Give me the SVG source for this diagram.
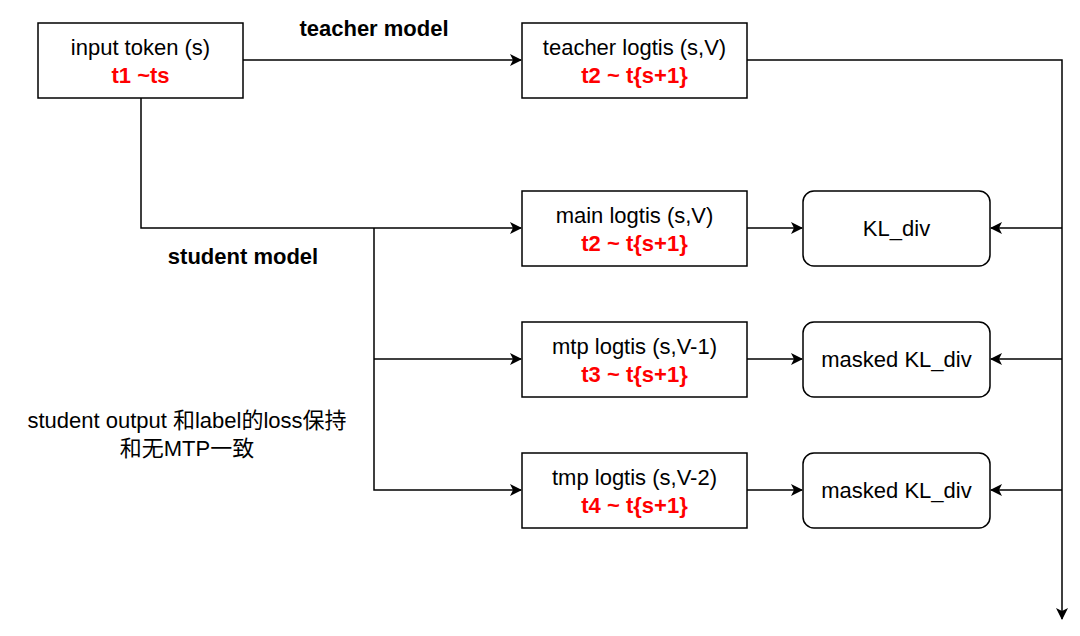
<svg xmlns="http://www.w3.org/2000/svg" width="1080" height="636" viewBox="0 0 1080 636">
<defs>
<marker id="arr" viewBox="0 0 12 12" refX="11" refY="6" markerWidth="12" markerHeight="12" markerUnits="userSpaceOnUse" orient="auto">
<path d="M0,0 L12,6 L0,12 L3,6 Z" fill="#000"/>
</marker>
</defs>
<style>
.box{fill:#fff;stroke:#000;stroke-width:1.5}
.t{font-family:"Liberation Sans",Arial,"Noto Sans CJK SC",sans-serif;font-size:22px;fill:#000;text-anchor:middle}
.r{font-family:"Liberation Sans",Arial,sans-serif;font-size:22px;font-weight:bold;fill:#f00;text-anchor:middle}
.b{font-family:"Liberation Sans",Arial,sans-serif;font-size:22px;font-weight:bold;fill:#000;text-anchor:middle}
.c{fill:none;stroke:#000;stroke-width:1.5}
</style>
<rect width="1080" height="636" fill="#fff"/>
<g id="connectors">
<path class="c" d="M243,60 L521,60" marker-end="url(#arr)"/>
<path class="c" d="M747,60 L1062,60 L1062,619" marker-end="url(#arr)"/>
<path class="c" d="M141,98 L141,228 L521,228" marker-end="url(#arr)"/>
<path class="c" d="M374,228 L374,490 L521,490" marker-end="url(#arr)"/>
<path class="c" d="M374,359 L521,359" marker-end="url(#arr)"/>
<path class="c" d="M747,228 L802,228" marker-end="url(#arr)"/>
<path class="c" d="M747,359 L802,359" marker-end="url(#arr)"/>
<path class="c" d="M747,490 L802,490" marker-end="url(#arr)"/>
<path class="c" d="M1062,228 L991,228" marker-end="url(#arr)"/>
<path class="c" d="M1062,359 L991,359" marker-end="url(#arr)"/>
<path class="c" d="M1062,490 L991,490" marker-end="url(#arr)"/>
</g>
<g id="input">
<rect class="box" x="38" y="23" width="205" height="75"/>
<text class="t" x="140.5" y="55">input token (s)</text>
<text class="r" x="140.5" y="83">t1 ~ts</text>
</g>
<g id="teacher">
<rect class="box" x="522" y="23" width="225" height="75"/>
<text class="t" x="634.5" y="55">teacher logtis (s,V)</text>
<text class="r" x="634.5" y="83">t2 ~ t{s+1}</text>
</g>
<g id="main">
<rect class="box" x="522" y="191" width="225" height="75"/>
<text class="t" x="634.5" y="223">main logtis (s,V)</text>
<text class="r" x="634.5" y="251">t2 ~ t{s+1}</text>
</g>
<g id="mtp">
<rect class="box" x="522" y="322" width="225" height="75"/>
<text class="t" x="634.5" y="354">mtp logtis (s,V-1)</text>
<text class="r" x="634.5" y="382">t3 ~ t{s+1}</text>
</g>
<g id="tmp">
<rect class="box" x="522" y="453" width="225" height="75"/>
<text class="t" x="634.5" y="485">tmp logtis (s,V-2)</text>
<text class="r" x="634.5" y="513">t4 ~ t{s+1}</text>
</g>
<g id="kl1">
<rect class="box" x="803" y="191" width="187" height="75" rx="11"/>
<text class="t" x="896.5" y="236">KL_div</text>
</g>
<g id="kl2">
<rect class="box" x="803" y="322" width="187" height="75" rx="11"/>
<text class="t" x="896.5" y="367">masked KL_div</text>
</g>
<g id="kl3">
<rect class="box" x="803" y="453" width="187" height="75" rx="11"/>
<text class="t" x="896.5" y="498">masked KL_div</text>
</g>
<g id="labels">
<text class="b" x="374" y="36">teacher model</text>
<text class="b" x="243" y="264">student model</text>
<text class="t" x="187" y="428">student output 和label的loss保持</text>
<text class="t" x="187" y="456">和无MTP一致</text>
</g>
</svg>
